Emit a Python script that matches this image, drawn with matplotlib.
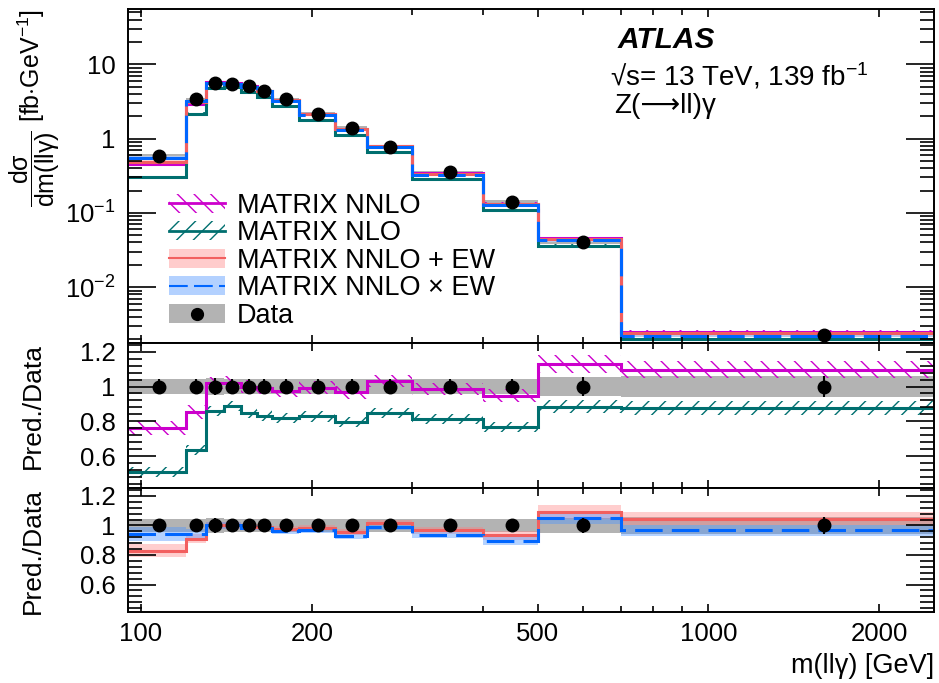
import matplotlib
matplotlib.use('Agg')
from matplotlib import pyplot as plt
from matplotlib.patches import Patch
from matplotlib.lines import Line2D
from matplotlib.ticker import FixedLocator, FuncFormatter, AutoMinorLocator, NullFormatter
import numpy as np

plt.rcParams['font.family'] = ['Liberation Sans', 'DejaVu Sans']
plt.rcParams['mathtext.fontset'] = 'custom'
plt.rcParams['mathtext.rm'] = 'Liberation Sans'
plt.rcParams['mathtext.it'] = 'Liberation Sans:italic'
plt.rcParams['mathtext.bf'] = 'Liberation Sans:bold'
plt.rcParams['hatch.linewidth'] = 1.0

# bin edges and data (m(llγ) in GeV)
edges = [95, 120, 130, 140, 150, 160, 170, 190, 220, 250, 300, 400, 500, 700, 2500]
centers = [107.5, 125, 135, 145, 155, 165, 180, 205, 235, 275, 350, 450, 600, 1600]
data = [0.59, 3.4, 5.6, 5.5, 5.05, 4.4, 3.37, 2.16, 1.40, 0.776, 0.35, 0.141, 0.0407, 0.00229]
data_unc = [0.045, 0.045, 0.05, 0.045, 0.042, 0.042, 0.045, 0.042, 0.045, 0.042, 0.045, 0.045, 0.052, 0.06]

# predictions as ratio to data
nnlo = [0.76, 0.853, 1.02, 1.023, 1.0, 0.99, 0.977, 0.994, 0.966, 1.03, 0.985, 0.948, 1.13, 1.096]
nnlo_unc = [0.04, 0.04, 0.035, 0.035, 0.035, 0.035, 0.035, 0.035, 0.035, 0.035, 0.035, 0.035, 0.05, 0.048]
nlo = [0.51, 0.636, 0.86, 0.889, 0.847, 0.832, 0.818, 0.828, 0.795, 0.847, 0.813, 0.767, 0.885, 0.876]
nlo_unc = [0.028, 0.03, 0.03, 0.03, 0.03, 0.03, 0.03, 0.03, 0.03, 0.03, 0.03, 0.03, 0.04, 0.042]
ew_add = [0.83, 0.91, 1.0, 1.0, 0.99, 0.99, 0.975, 0.986, 0.958, 1.02, 0.967, 0.933, 1.09, 1.045]
ew_add_unc = [0.044, 0.03, 0.025, 0.025, 0.02, 0.02, 0.02, 0.02, 0.02, 0.02, 0.025, 0.03, 0.046, 0.044]
ew_mult = [0.944, 0.944, 1.0, 1.0, 0.986, 0.986, 0.963, 0.97, 0.93, 0.99, 0.938, 0.896, 1.05, 0.967]
ew_mult_unc = [0.046, 0.03, 0.025, 0.025, 0.02, 0.02, 0.02, 0.02, 0.02, 0.02, 0.025, 0.03, 0.04, 0.037]

MAG = '#cc00cc'
TEAL = '#006f6f'
RED = '#f25f5f'
PINK = '#ffcccc'
BLUE = '#0066ff'
LBLUE = '#b3d1ff'
GRAY = '#b3b3b3'

edges = np.array(edges)
data = np.array(data)
data_unc = np.array(data_unc)


def band(ax, ratio, unc, scale, color, hatch=None, alpha=1.0):
    ratio = np.array(ratio)
    unc = np.array(unc)
    lo = (ratio - unc) * scale
    hi = (ratio + unc) * scale
    if hatch:
        ax.stairs(hi, edges, baseline=lo, fill=True, facecolor='none',
                  edgecolor=color, hatch=hatch, linewidth=0)
    else:
        ax.stairs(hi, edges, baseline=lo, fill=True, color=color,
                  alpha=alpha, linewidth=0)


def line(ax, ratio, scale, color, ls='-'):
    ax.stairs(np.array(ratio) * scale, edges, color=color, linewidth=2.2,
              linestyle=ls, baseline=None)


fig = plt.figure(figsize=(9.39, 6.83), dpi=100)
ax0 = fig.add_axes([0.1366, 0.4982, 0.8584, 0.4886])
ax1 = fig.add_axes([0.1366, 0.2850, 0.8584, 0.2132])
ax2 = fig.add_axes([0.1366, 0.1040, 0.8584, 0.1811])

# top panel
band(ax0, np.ones(len(data)), data_unc, data, GRAY)
band(ax0, nnlo, nnlo_unc, data, MAG, hatch='\\\\')
band(ax0, nlo, nlo_unc, data, TEAL, hatch='//')
band(ax0, ew_add, ew_add_unc, data, PINK, alpha=0.8)
band(ax0, ew_mult, ew_mult_unc, data, LBLUE, alpha=0.8)
line(ax0, nnlo, data, MAG)
line(ax0, nlo, data, TEAL)
line(ax0, ew_add, data, RED)
line(ax0, ew_mult, data, BLUE, ls=(0, (9, 3)))
ax0.errorbar(centers, data, yerr=data * data_unc, fmt='o', color='k', ms=9,
             elinewidth=1.5, capsize=0, zorder=10)
ax0.set_yscale('log')
ax0.set_ylim(0.00179, 55.5)

# middle panel: NNLO and NLO
band(ax1, np.ones(len(data)), data_unc, 1, GRAY)
band(ax1, nnlo, nnlo_unc, 1, MAG, hatch='\\\\')
band(ax1, nlo, nlo_unc, 1, TEAL, hatch='//')
line(ax1, nnlo, 1, MAG)
line(ax1, nlo, 1, TEAL)
ax1.errorbar(centers, np.ones(len(data)), yerr=data_unc, fmt='o', color='k',
             ms=9, elinewidth=1.5, capsize=0, zorder=10)

# bottom panel: EW combinations
band(ax2, np.ones(len(data)), data_unc, 1, GRAY)
band(ax2, ew_add, ew_add_unc, 1, '#ff8080', alpha=0.38)
band(ax2, ew_mult, ew_mult_unc, 1, '#4d94ff', alpha=0.42)
line(ax2, ew_add, 1, RED)
line(ax2, ew_mult, 1, BLUE, ls=(0, (9, 3)))
ax2.errorbar(centers, np.ones(len(data)), yerr=data_unc, fmt='o', color='k',
             ms=9, elinewidth=1.5, capsize=0, zorder=10)

for ax in (ax0, ax1, ax2):
    ax.set_xscale('log')
    ax.set_xlim(95, 2500)
    ax.xaxis.set_major_locator(FixedLocator([100, 200, 500, 1000, 2000]))
    ax.xaxis.set_minor_locator(FixedLocator([300, 400, 600, 700, 800, 900]))
    ax.xaxis.set_minor_formatter(NullFormatter())
    ax.tick_params(which='both', direction='in', top=True, right=True,
                   labelsize=18.5, width=1.2)
    ax.tick_params(axis='y', which='major', length=20, pad=9)
    ax.tick_params(axis='y', which='minor', length=10)
    ax.tick_params(axis='x', which='major', length=6, pad=7)
    ax.tick_params(axis='x', which='minor', length=4)
    for s in ax.spines.values():
        s.set_linewidth(1.4)

ax0.xaxis.set_major_formatter(NullFormatter())
ax1.xaxis.set_major_formatter(NullFormatter())
ax2.xaxis.set_major_formatter(FuncFormatter(lambda v, p: '%d' % v))


def logfmt(v, p):
    if v >= 1:
        return '%d' % round(v)
    return r'$10^{%d}$' % round(np.log10(v))


ax0.yaxis.set_major_locator(FixedLocator([0.01, 0.1, 1, 10]))
ax0.yaxis.set_major_formatter(FuncFormatter(logfmt))
ax0.yaxis.set_minor_formatter(NullFormatter())

for ax in (ax1, ax2):
    ax.set_ylim(0.414, 1.252)
    ax.yaxis.set_major_locator(FixedLocator([0.6, 0.8, 1.0, 1.2]))
    ax.yaxis.set_major_formatter(FuncFormatter(lambda v, p: '%g' % v))
    ax.yaxis.set_minor_locator(AutoMinorLocator(5))
    ax.set_ylabel('Pred./Data', fontsize=19, loc='top')
    ax.yaxis.set_label_coords(-0.104, 1.0)

ax0.set_ylabel(r'$\dfrac{\mathrm{dσ}}{\mathrm{dm(llγ)}}$ [fb$\cdot$GeV$^{-1}$]',
               fontsize=18, loc='top')
ax0.yaxis.set_label_coords(-0.082, 1.0)
ax2.set_xlabel('m(llγ) [GeV]', fontsize=19.5, loc='right', labelpad=5)

fig.text(0.658, 0.930, 'ATLAS', fontsize=21.5, fontweight='bold', fontstyle='italic')
fig.text(0.6496, 0.8755, '√s= 13 TeV, 139 fb$^{-1}$', fontsize=20)
fig.text(0.6545, 0.8346, 'Z(⟶ll)γ', fontsize=20)

handles = [
    (Patch(facecolor='none', edgecolor=MAG, hatch='\\\\', linewidth=0),
     Line2D([], [], color=MAG, lw=2)),
    (Patch(facecolor='none', edgecolor=TEAL, hatch='//', linewidth=0),
     Line2D([], [], color=TEAL, lw=2)),
    (Patch(facecolor=PINK, linewidth=0), Line2D([], [], color=RED, lw=1.5)),
    (Patch(facecolor=LBLUE, linewidth=0),
     Line2D([], [], color=BLUE, lw=1.5, ls=(0, (9, 3)))),
    (Patch(facecolor=GRAY, linewidth=0),
     Line2D([], [], color='k', marker='o', ms=8.5, ls='none')),
]
labels = ['MATRIX NNLO', 'MATRIX NLO', 'MATRIX NNLO + EW', 'MATRIX NNLO × EW', 'Data']
ax0.legend(handles, labels, loc='upper left', bbox_to_anchor=(0.05, 0.45),
           frameon=False, fontsize=19.5, labelspacing=0.06, handlelength=2.1,
           handleheight=0.7, handletextpad=0.42, borderpad=0, borderaxespad=0)

fig.savefig('out.png', dpi=100)
